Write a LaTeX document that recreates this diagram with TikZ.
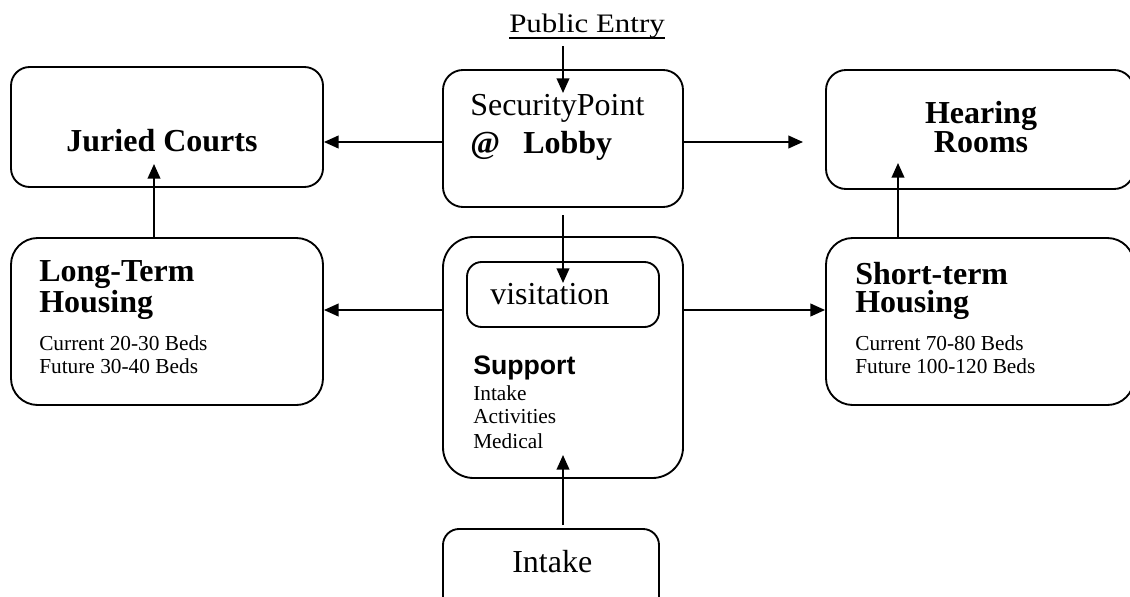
\documentclass[tikz,border=0pt]{standalone}
\usepackage{fontspec}
\setmainfont{Liberation Serif}
\setsansfont{Liberation Sans}
\newfontface\pefont[FakeStretch=1.16]{Liberation Serif}
\usetikzlibrary{arrows.meta,fit,calc}
\tikzset{
  box/.style={draw, line width=1.4pt, inner sep=0pt, rounded corners=#1},
  box/.default=15pt,
  arr/.style={line width=1.4pt, -{Triangle[length=11pt,width=9.5pt]}},
  big/.style={anchor=base west, inner sep=0pt, font=\fontsize{24}{28}\selectfont},
  bigb/.style={anchor=base west, inner sep=0pt, font=\fontsize{24}{28}\selectfont\bfseries},
  twoline/.style={anchor=base west, inner sep=0pt, align=left, font=\fontsize{24}{21}\selectfont\bfseries},
  twolinec/.style={anchor=base, inner sep=0pt, align=center, font=\fontsize{24}{21.75}\selectfont\bfseries},
  bigc/.style={anchor=base, inner sep=0pt, font=\fontsize{24}{28}\selectfont\bfseries},
  small/.style={anchor=base west, inner sep=0pt, font=\fontsize{16}{19}\selectfont},
  smallpair/.style={anchor=base west, inner sep=0pt, align=left, font=\fontsize{16}{17.25}\selectfont},
}
\begin{document}
\begin{tikzpicture}[x=0.75pt,y=-0.75pt]
\useasboundingbox (0,0) rectangle (1130,596);
\clip (0,0) rectangle (1130,596);
% boxes
\node[box=15pt] (sec) [fit={(443,70) (683,207)}] {};
\node[box=14pt] (jur) [fit={(11,67) (323,187)}] {};
\node[box=15pt] (hear) [fit={(826,70) (1134,189)}] {};
\node[box=20pt] (lt) [fit={(11,238) (323,405)}] {};
\node[box=20pt] (st) [fit={(826,238) (1134,405)}] {};
\node[box=23pt] (sup) [fit={(443,237) (683,478)}] {};
\node[box=11pt] (vis) [fit={(467,262) (659,327)}] {};
\node[box=12pt] (intk) [fit={(443,529) (659,620)}] {};
% texts
\node[anchor=base west, inner sep=0pt, font=\fontsize{20}{24}\pefont] (pe) at (509,32) {Public Entry};
\draw[line width=1.2pt] ($(pe.base west)+(0,6)$) -- ($(pe.base east)+(0,6)$);
\node[big] (secA) at (470,115) {SecurityPoint};
\node[bigb] (secB) at (470,153) {@};
\node[bigb] (secC) at (523,153) {Lobby};
\node[bigc] (jurT) at (162,151) {Juried Courts};
\node[twolinec] (hearT) at (981,152) {Hearing\\Rooms};
\node[twoline] (ltT) at (39,312) {Long-Term\\Housing};
\node[smallpair] (ltS) at (39,373) {Current 20-30 Beds\\Future 30-40 Beds};
\node[twoline] (stT) at (855,312) {Short-term\\Housing};
\node[smallpair] (stS) at (855,373) {Current 70-80 Beds\\Future 100-120 Beds};
\node[big] (visT) at (490,304) {visitation};
\node[small, font=\fontsize{20}{24}\selectfont\sffamily\bfseries] (supA) at (473,374) {Support};
\node[small] (supB) at (473,400) {Intake};
\node[small] (supC) at (473,423) {Activities};
\node[small] (supD) at (473,448) {Medical};
\node[big] (intkT) at (512,572) {Intake};
% connector coordinates
\coordinate (h1) at (0,142);
\coordinate (h2) at (0,310);
\coordinate (peS) at (563,46);
\coordinate (peE) at (563,93);
\coordinate (hrE) at (803,142);
\coordinate (jurE) at (154,164);
\coordinate (hearE) at (898,163);
\coordinate (visS) at (563,215);
\coordinate (visE) at (563,283);
\coordinate (inS) at (563,525);
\coordinate (inE) at (563,455);
% connectors
\draw[arr] (peS) -- (peE);
\draw[arr] (h1 -| sec.west) -- (h1 -| jur.east);
\draw[arr] (h1 -| sec.east) -- (hrE);
\draw[arr] (jurE |- lt.north) -- (jurE);
\draw[arr] (hearE |- st.north) -- (hearE);
\draw[arr] (visS) -- (visE);
\draw[arr] (h2 -| sup.west) -- (h2 -| lt.east);
\draw[arr] (h2 -| sup.east) -- (h2 -| st.west);
\draw[arr] (inS) -- (inE);
\end{tikzpicture}
\end{document}
